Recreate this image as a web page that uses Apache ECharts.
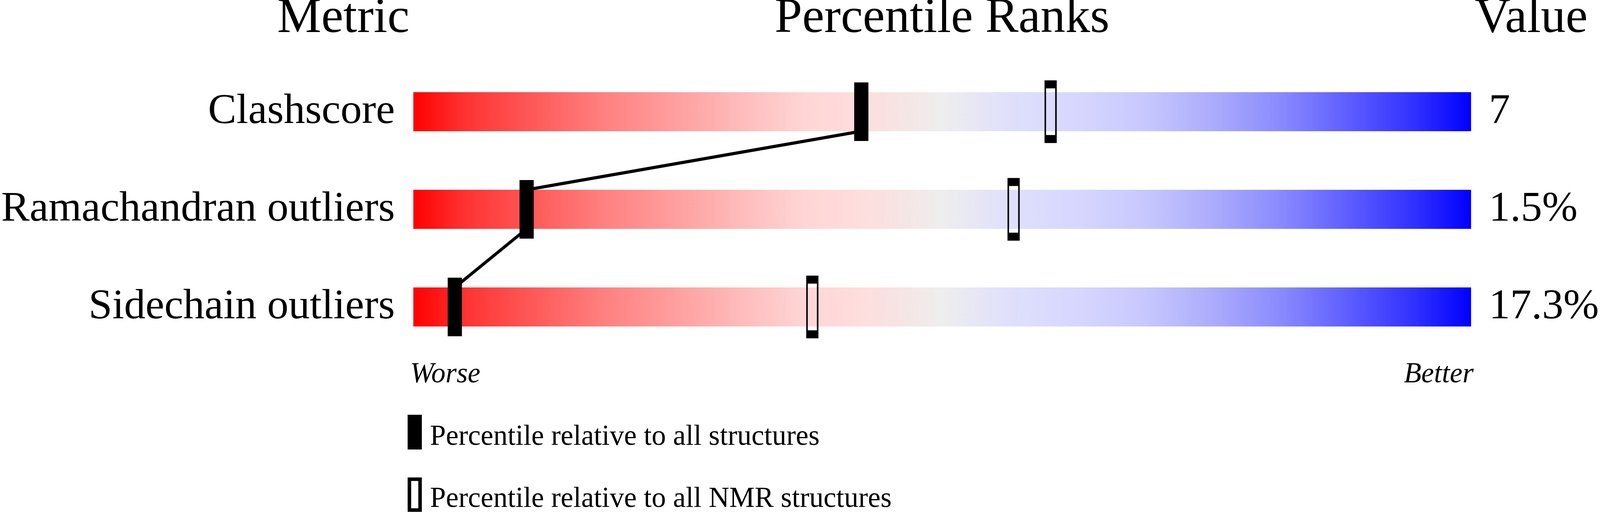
<!DOCTYPE html>
<html>
<head>
<meta charset="utf-8">
<title>Percentile Ranks</title>
<script src="https://cdn.jsdelivr.net/npm/echarts@6/dist/echarts.min.js"></script>
<style>
  html, body { margin: 0; padding: 0; background: #fff; overflow: hidden; }
  #chart { width: 100vw; height: 100vh; }
</style>
</head>
<body>
<div id="chart"></div>
<script>
// metrics, shown top to bottom
const metrics = ['Clashscore', 'Ramachandran outliers', 'Sidechain outliers'];
const metricValues = ['7', '1.5%', '17.3%'];
// percentile rank relative to all structures (filled markers)
const pctAll = [42.35, 10.71, 3.92];
// percentile rank relative to NMR structures (open markers)
const pctNmr = [60.25, 56.75, 37.72];

const legendNames = [
  'Percentile relative to all structures',
  'Percentile relative to all NMR structures'
];

const FONT = '"Liberation Serif", "Times New Roman", serif';

// slider colour ramp red -> grey -> blue
const rampStops = [
  { offset: 0, color: '#ff0000' },
  { offset: 0.05, color: '#ff3333' },
  { offset: 0.18, color: '#ff8080' },
  { offset: 0.31, color: '#ffbbbb' },
  { offset: 0.37, color: '#ffd5d5' },
  { offset: 0.42, color: '#ffdddd' },
  { offset: 0.46, color: '#f7e4e4' },
  { offset: 0.50, color: '#eeeeee' },
  { offset: 0.56, color: '#e0e0fc' },
  { offset: 0.63, color: '#d6d6ff' },
  { offset: 0.69, color: '#c8c8ff' },
  { offset: 0.755, color: '#acacfc' },
  { offset: 0.82, color: '#8a8aff' },
  { offset: 0.88, color: '#6060ff' },
  { offset: 0.947, color: '#3030ff' },
  { offset: 1, color: '#0000ff' }
];

const dom = document.getElementById('chart');
const chart = echarts.init(dom);

// layout was measured on a 4506 x 1311 page, scale to the real viewport
const W = dom.clientWidth, H = dom.clientHeight;
const sx = W / 4506, sy = H / 1311;
const X = v => v * sx;
const Y = v => v * sy;
const F = v => Math.round(v * Math.min(sx, sy));
const BAR_H = Y(100);

// segments joining the filled markers row to row
let links = [];
for (let i = 0; i < pctAll.length - 1; i++) {
  links.push([pctAll[i], i, pctAll[i + 1], i + 1]);
}

const option = {
  animation: false,
  backgroundColor: '#fff',
  grid: { left: X(1153), width: X(3000), top: Y(161), height: Y(750) },
  xAxis: { type: 'value', min: 0, max: 100, show: false },
  yAxis: [
    {
      type: 'category',
      data: metrics,
      inverse: true,
      axisLine: { show: false },
      axisTick: { show: false },
      splitLine: { show: false },
      axisLabel: {
        margin: X(52),
        fontFamily: FONT,
        fontSize: F(120),
        color: '#000',
        padding: [Y(26), 0, 0, 0]
      }
    },
    {
      type: 'category',
      data: metricValues,
      inverse: true,
      position: 'right',
      axisLine: { show: false },
      axisTick: { show: false },
      splitLine: { show: false },
      axisLabel: {
        margin: X(50),
        align: 'left',
        fontFamily: FONT,
        fontSize: F(120),
        color: '#000',
        padding: [Y(26), 0, 0, 0]
      }
    }
  ],
  series: [
    {
      type: 'bar',
      data: metrics.map(() => 100),
      barWidth: BAR_H,
      silent: true,
      itemStyle: {
        color: { type: 'linear', x: 0, y: 0, x2: 1, y2: 0, colorStops: rampStops }
      }
    },
    {
      type: 'custom',
      silent: true,
      z: 3,
      data: links,
      encode: { x: [0, 2], y: [1, 3] },
      renderItem: function (params, api) {
        const a = api.coord([api.value(0), api.value(1)]);
        const b = api.coord([api.value(2), api.value(3)]);
        return {
          type: 'line',
          shape: { x1: a[0], y1: a[1] + BAR_H / 2, x2: b[0], y2: b[1] - BAR_H / 2 },
          style: { stroke: '#000', lineWidth: F(9) }
        };
      }
    },
    {
      name: legendNames[0],
      type: 'scatter',
      z: 4,
      symbol: 'rect',
      symbolSize: [X(40), Y(150)],
      itemStyle: { color: '#000', opacity: 1 },
      data: pctAll.map((v, i) => [v, i])
    },
    {
      name: legendNames[1],
      type: 'scatter',
      z: 4,
      symbol: 'rect',
      symbolSize: [X(30), Y(140)],
      itemStyle: { color: 'rgba(0,0,0,0)', borderColor: '#000', borderWidth: F(10), opacity: 1 },
      data: pctNmr.map((v, i) => [v, i])
    }
  ],
  graphic: [
    {
      type: 'text', x: X(1153), y: Y(49),
      style: { text: 'Metric', font: F(140) + 'px ' + FONT, fill: '#000', align: 'right', verticalAlign: 'middle' }
    },
    {
      type: 'text', x: X(2653), y: Y(49),
      style: { text: 'Percentile Ranks', font: F(140) + 'px ' + FONT, fill: '#000', align: 'center', verticalAlign: 'middle' }
    },
    {
      type: 'text', x: X(4153), y: Y(49),
      style: { text: 'Value', font: F(140) + 'px ' + FONT, fill: '#000', align: 'left', verticalAlign: 'middle' }
    },
    {
      type: 'text', x: X(1155), y: Y(960),
      style: { text: 'Worse', font: 'italic ' + F(80) + 'px ' + FONT, fill: '#000', align: 'left', verticalAlign: 'middle' }
    },
    {
      type: 'text', x: X(4150), y: Y(960),
      style: { text: 'Better', font: 'italic ' + F(80) + 'px ' + FONT, fill: '#000', align: 'right', verticalAlign: 'middle' }
    },
    // legend
    {
      type: 'rect', shape: { x: X(1148), y: Y(1062), width: X(40), height: Y(89) },
      style: { fill: '#000' }
    },
    {
      type: 'text', x: X(1211), y: Y(1120),
      style: { text: legendNames[0], font: F(80) + 'px ' + FONT, fill: '#000', align: 'left', verticalAlign: 'middle' }
    },
    {
      type: 'rect', shape: { x: X(1153), y: Y(1227), width: X(30), height: Y(79) },
      style: { fill: 'none', stroke: '#000', lineWidth: F(10) }
    },
    {
      type: 'text', x: X(1211), y: Y(1279),
      style: { text: legendNames[1], font: F(80) + 'px ' + FONT, fill: '#000', align: 'left', verticalAlign: 'middle' }
    }
  ]
};

chart.setOption(option);
</script>
</body>
</html>
